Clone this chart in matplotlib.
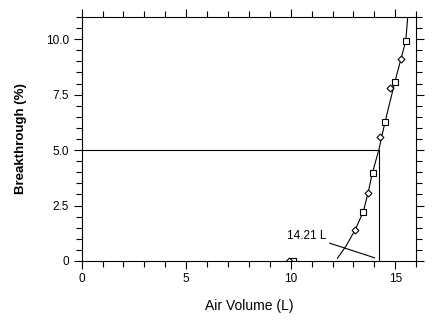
import matplotlib.pyplot as plt
from matplotlib.ticker import MultipleLocator

plt.rcParams['font.family'] = ['Liberation Sans', 'DejaVu Sans']

# breakthrough curve
fit_x = [12.23, 12.65, 13.08, 13.47, 13.70, 13.90, 14.21, 14.51, 14.99, 15.50, 15.62]
fit_y = [0.12, 0.68, 1.40, 2.22, 3.08, 3.95, 5.00, 6.27, 8.11, 9.92, 11.3]

# sampled points, two tubes
sq_x = [10.10, 13.46, 13.94, 14.50, 14.98, 15.50]
sq_y = [0.00, 2.19, 3.98, 6.26, 8.09, 9.92]
dm_x = [9.93, 13.09, 13.68, 14.27, 14.77, 15.28]
dm_y = [0.00, 1.40, 3.08, 5.60, 7.78, 9.10]

bt_volume = 14.21
bt_level = 5.0
label = '14.21 L'

fig = plt.figure(figsize=(4.34, 3.21), dpi=100)
ax = fig.add_axes([0.188, 0.187, 0.771, 0.760])

ax.plot(fit_x, fit_y, color='black', lw=0.8)
ax.plot(sq_x, sq_y, ls='none', marker='s', ms=4.5, mfc='white', mec='black', mew=0.8)
ax.plot(dm_x, dm_y, ls='none', marker='D', ms=3.5, mfc='white', mec='black', mew=0.8)

# 5% breakthrough level
ax.plot([0, bt_volume], [bt_level, bt_level], color='black', lw=0.8)
ax.plot([bt_volume, bt_volume], [bt_level, 0], color='black', lw=0.8)

ax.annotate(label, xy=(14.02, 0.14), xytext=(11.72, 1.0),
            fontsize=8.5, ha='right', va='baseline',
            arrowprops=dict(arrowstyle='-', color='black', lw=0.8,
                            shrinkA=0, shrinkB=0))

ax.set_xlim(0, 16)
ax.set_ylim(0, 11)
ax.xaxis.set_major_locator(MultipleLocator(5))
ax.xaxis.set_minor_locator(MultipleLocator(1))
ax.yaxis.set_major_locator(MultipleLocator(2.5))
ax.yaxis.set_minor_locator(MultipleLocator(0.5))
ax.set_yticks([0, 2.5, 5, 7.5, 10])
ax.set_yticklabels(['0', '2.5', '5.0', '7.5', '10.0'])

ax.tick_params(which='both', direction='out', top=True, right=True,
               width=0.8, labelsize=8.5, pad=3)
ax.tick_params(which='major', length=6)
ax.tick_params(which='minor', length=4)
for s in ax.spines.values():
    s.set_linewidth(0.8)

ax.set_xlabel('Air Volume (L)', fontsize=10, labelpad=10)
ax.set_ylabel('Breakthrough (%)', fontsize=9.5, fontweight='bold', labelpad=14)

fig.savefig('out.png', dpi=100)
